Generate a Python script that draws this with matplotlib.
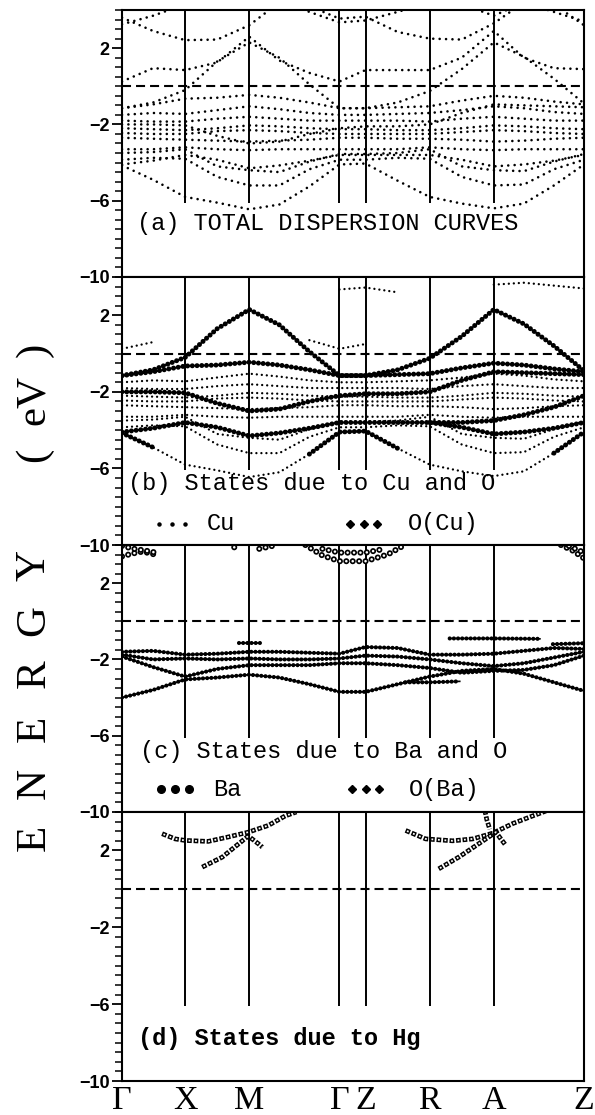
import numpy as np
import matplotlib
matplotlib.use("Agg")
import matplotlib.pyplot as plt
from matplotlib.ticker import FixedLocator, MultipleLocator

plt.rcParams['lines.scale_dashes'] = False
nan = np.nan

# ---------------- data ----------------
# k-path knots (Γ X M Γ Z R A Z with intermediate points)
kpts = [0, 31, 63, 95, 127, 157, 187, 217, 243, 275, 307, 339, 371, 401, 431, 461]
sym_k = [0, 63, 127, 217, 243, 307, 371, 461]
sym_labels = ['Γ', 'X', 'M', 'Γ', 'Z', 'R', 'A', 'Z']
yticks = [-10, -6, -2, 2]
e_fermi = 0.0

# panel (a) bands (eV at each knot)
band_C4 = [3.25, 3.7, 4.3, 4.5, 4.5, 4.5, 3.9, 3.35, 3.45, 3.9, 4.4, 4.3, 3.7, 4.4, 3.9, 3.4]
band_C3 = [3.6, 2.9, 2.42, 2.45, 3.2, 4.4, 4.2, 3.55, 3.65, 2.85, 2.5, 2.45, 3.3, 4.4, 4.3, 3.2]
band_C2 = [0.25, 0.95, 0.85, 1.25, 2.6, 1.35, 0.7, 0.25, 0.85, 0.85, 0.85, 1.5, 2.9, 1.5, 0.95, 0.9]
band_AB = [-1.15, -0.85, -0.2, 1.3, 2.3, 1.5, 0.1, -1.15, -1.15, -0.85, -0.25, 0.9, 2.3, 1.55, 0.4, -0.9]
band_V1 = [-1.15, -0.95, -0.65, -0.6, -0.45, -0.6, -0.85, -1.15, -1.15, -1.1, -1.05, -0.75, -0.5, -0.6, -0.8, -0.95]
band_V2 = [-1.5, -1.4, -1.45, -1.25, -1.05, -1.2, -1.4, -1.5, -1.5, -1.45, -1.4, -1.25, -1.05, -1.15, -1.35, -1.45]
band_V3 = [-1.8, -1.85, -1.85, -1.7, -1.6, -1.7, -1.8, -1.8, -1.8, -1.8, -1.85, -1.7, -1.6, -1.7, -1.8, -1.8]
band_V4 = [-2.0, -2.0, -2.05, -2.6, -3.0, -2.9, -2.5, -2.2, -2.1, -2.1, -2.0, -1.4, -0.95, -1.0, -1.05, -1.1]
band_V5 = [-2.2, -2.25, -2.3, -2.2, -2.05, -2.1, -2.2, -2.25, -2.25, -2.3, -2.3, -2.2, -2.05, -2.1, -2.2, -2.25]
band_V6 = [-2.45, -2.5, -2.5, -2.35, -2.3, -2.35, -2.45, -2.5, -2.5, -2.5, -2.5, -2.4, -2.3, -2.35, -2.45, -2.5]
band_V7 = [-2.7, -2.75, -2.8, -2.85, -2.9, -2.85, -2.8, -2.7, -2.7, -2.75, -2.75, -2.8, -2.9, -2.85, -2.75, -2.7]
band_V8 = [-3.3, -3.3, -3.2, -3.3, -3.35, -3.3, -3.3, -3.3, -3.3, -3.3, -3.2, -3.3, -3.35, -3.3, -3.3, -3.3]
band_V9 = [-4.1, -3.9, -3.6, -3.85, -4.3, -4.15, -3.9, -3.6, -3.6, -3.6, -3.6, -3.85, -4.2, -4.1, -3.9, -3.6]
band_L3 = [-3.5, -3.45, -3.3, -4.2, -4.4, -4.5, -3.95, -3.55, -3.55, -3.5, -3.3, -4.2, -4.4, -4.45, -3.95, -3.55]
band_L2 = [-3.85, -3.75, -3.8, -4.75, -5.2, -5.2, -4.35, -3.85, -3.85, -3.75, -3.8, -4.75, -5.2, -5.15, -4.35, -3.85]
band_L1 = [-4.15, -4.9, -5.8, -6.1, -6.45, -6.2, -5.25, -4.1, -4.05, -4.95, -5.8, -6.15, -6.4, -6.15, -5.2, -4.1]

# panel (b) partial bands
cu_C2_part = [0.25, 0.6, nan, nan, nan, nan, 0.7, 0.25, 0.5, nan, nan, nan, nan, nan, nan, nan]
cu_C4_part = [nan, nan, nan, nan, nan, nan, nan, 3.35, 3.45, 3.2, nan, nan, 3.6, 3.7, 3.55, 3.4]
ocu_L1_part = [-4.15, -4.9, nan, nan, nan, nan, -5.25, -4.1, -4.05, -4.95, nan, nan, nan, nan, -5.2, -4.1]
ocu_TB4 = [nan, nan, nan, nan, nan, nan, nan, nan, nan, nan, -3.6, -3.6, -3.5, -3.2, -2.8, -2.2]

# panel (c): O(Ba) bands
oba_1 = [-1.6, -1.55, -1.75, -1.7, -1.6, -1.6, -1.65, -1.7, -1.35, -1.4, -1.75, -1.75, -1.7, -1.55, -1.4, -1.45]
oba_2 = [-1.75, -2.0, -1.95, -2.0, -1.95, -2.0, -2.0, -1.95, -1.8, -1.85, -2.0, -2.2, -2.35, -2.2, -1.9, -1.6]
oba_3 = [-1.85, -2.4, -2.9, -2.5, -2.3, -2.3, -2.3, -2.2, -2.2, -2.3, -2.45, -2.7, -2.6, -2.55, -2.3, -1.8]
oba_4 = [-4.0, -3.6, -3.05, -2.95, -2.8, -2.95, -3.3, -3.7, -3.7, -3.3, -2.9, -2.6, -2.5, -2.75, -3.2, -3.65]
oba_5_k = [327, 371, 417]
oba_5 = [-0.9, -0.9, -0.92]
oba_6_k = [283, 307, 337]
oba_6 = [-3.2, -3.2, -3.15]
oba_7_k = [117, 138]
oba_7 = [-1.12, -1.12]
oba_8_k = [430, 461]
oba_8 = [-1.2, -1.15]

# panel (c): Ba states
ba_1_k = [0, 10, 20, 30, 36]
ba_1 = [3.4, 3.55, 3.65, 3.55, 3.4]
ba_2_k = [0, 12, 24, 34]
ba_2 = [3.95, 3.8, 3.7, 3.6]
ba_3_k = [112, 116]
ba_3 = [3.88, 3.9]
ba_4_k = [137, 150]
ba_4 = [3.8, 3.95]
ba_5_k = [183, 200, 217, 243, 265, 282]
ba_5 = [4.0, 3.45, 3.15, 3.15, 3.5, 4.0]
ba_6_k = [200, 217, 243, 262]
ba_6 = [3.8, 3.6, 3.6, 3.8]
ba_7_k = [438, 450, 461]
ba_7 = [4.0, 3.7, 3.3]
ba_8_k = [446, 461]
ba_8 = [3.95, 3.6]

# panel (d): Hg states
hg_1_k = [40, 53, 63, 86, 106, 126, 146, 163, 174]
hg_1 = [2.87, 2.6, 2.52, 2.47, 2.7, 2.95, 3.3, 3.8, 4.0]
hg_2_k = [80, 100, 113, 126, 136, 140]
hg_2 = [1.13, 1.65, 2.2, 2.75, 2.35, 2.17]
hg_3_k = [283, 303, 330, 350, 370, 390, 410, 423]
hg_3 = [3.04, 2.6, 2.5, 2.6, 2.9, 3.4, 3.8, 4.05]
hg_4_k = [316, 336, 356, 373, 383]
hg_4 = [1.04, 1.65, 2.35, 2.95, 2.26]
hg_5_k = [362, 364, 367]
hg_5 = [4.1, 3.6, 3.1]

panel_a_bands = [band_C4, band_C3, band_C2, band_AB, band_V1, band_V2, band_V3, band_V4,
                 band_V5, band_V6, band_V7, band_V8, band_V9, band_L3, band_L2, band_L1]
panel_b_cu = [band_V2, band_V3, band_V5, band_V6, band_V7, band_V8, band_L3, band_L2, band_L1,
              cu_C2_part, cu_C4_part]
panel_b_ocu = [band_AB, band_V1, band_V4, band_V9, ocu_L1_part, ocu_TB4]
panel_c_oba = [oba_1, oba_2, oba_3, oba_4]
panel_c_oba_short = [(oba_5_k, oba_5), (oba_6_k, oba_6), (oba_7_k, oba_7), (oba_8_k, oba_8)]
panel_c_ba = [(ba_1_k, ba_1), (ba_2_k, ba_2), (ba_3_k, ba_3), (ba_4_k, ba_4),
              (ba_5_k, ba_5), (ba_6_k, ba_6), (ba_7_k, ba_7), (ba_8_k, ba_8)]
panel_d_hg = [(hg_1_k, hg_1), (hg_2_k, hg_2), (hg_3_k, hg_3), (hg_4_k, hg_4), (hg_5_k, hg_5)]

# ---------------- styles ----------------
small_dot = dict(color='k', lw=1.9, ls=(0, (0.01, 4.6)), dash_capstyle='round')
cu_dot = dict(color='k', lw=1.7, ls=(0, (0.01, 3.6)), dash_capstyle='round')
thick_dot = dict(color='k', lw=3.6, ls=(0, (0.01, 3.4)), dash_capstyle='round')
oba_line = dict(color='k', lw=1.2, ls='-')
oba_dot = dict(color='k', lw=3.0, ls=(0, (0.01, 3.0)), dash_capstyle='round')
circ_out = dict(color='k', lw=4.4, ls=(0, (0.01, 4.6)), dash_capstyle='round')
circ_in = dict(color='white', lw=1.9, ls=(0, (0.01, 4.6)), dash_capstyle='round')
sq_out = dict(color='k', lw=3.4, ls=(0, (3.4, 1.3)), dash_capstyle='butt', solid_capstyle='butt')
sq_in = dict(color='white', lw=1.3, ls=(3.65, (1.3, 3.4)), dash_capstyle='butt')

mono = dict(family='Liberation Mono', fontsize=17, color='k')

fig = plt.figure(figsize=(5.95, 11.15), dpi=100)
left = 122 / 595
width = 462 / 595
tops_px = [10, 277, 545, 812]
bots_px = [277, 545, 812, 1081]
axes = []
for tp, bp in zip(tops_px, bots_px):
    ax = fig.add_axes([left, (1115 - bp) / 1115, width, (bp - tp) / 1115])
    axes.append(ax)

for i, ax in enumerate(axes):
    ax.set_xlim(0, 461)
    ax.set_ylim(-10, 4)
    for s in ax.spines.values():
        s.set_linewidth(1.5)
    ax.yaxis.set_major_locator(FixedLocator(yticks))
    ax.yaxis.set_minor_locator(MultipleLocator(0.5))
    ax.tick_params(axis='y', which='major', direction='out', length=7, width=1.3,
                   labelsize=13, pad=2)
    ax.tick_params(axis='y', which='minor', direction='out', length=5, width=1.1)
    for lab in ax.get_yticklabels():
        lab.set_fontfamily('Liberation Sans')
        lab.set_fontweight('bold')
    ax.set_xticks(sym_k)
    ax.tick_params(axis='x', length=0)
    if i < 3:
        ax.set_xticklabels([])
    else:
        ax.set_xticklabels(sym_labels, fontfamily='Liberation Serif', fontsize=24.5)
        ax.tick_params(axis='x', pad=3)
    ax.vlines(sym_k[1:-1], -6.1, 4, color='k', lw=1.4)
    ax.axhline(e_fermi, color='k', lw=1.5, ls=(0, (6.5, 3.6)))

axa, axb, axc, axd = axes

# (a)
for b in panel_a_bands:
    axa.plot(kpts, b, **small_dot)
axa.text(15, -7.2, '(a) TOTAL DISPERSION CURVES', va='center', ha='left', **mono)

# (b)
for b in panel_b_cu:
    axb.plot(kpts, b, **cu_dot)
for b in panel_b_ocu:
    axb.plot(kpts, b, **thick_dot)
axb.text(6, -6.8, '(b) States due to Cu and O', va='center', ha='left', **mono)
axb.plot([37, 50, 63], [-8.9] * 3, ls='none', marker='o', ms=2.2, color='k')
axb.text(85, -8.9, 'Cu', va='center', ha='left', **mono)
axb.plot([228, 241, 254], [-8.9] * 3, ls='none', marker='D', ms=3.6, color='k')
axb.text(285, -8.9, 'O(Cu)', va='center', ha='left', **mono)

# (c)
for b in panel_c_oba:
    axc.plot(kpts, b, **oba_line)
    axc.plot(kpts, b, **oba_dot)
for kk, b in panel_c_oba_short:
    axc.plot(kk, b, **oba_line)
    axc.plot(kk, b, **oba_dot)
for kk, b in panel_c_ba:
    axc.plot(kk, b, **circ_out)
    axc.plot(kk, b, **circ_in)
axc.text(18, -6.85, '(c) States due to Ba and O', va='center', ha='left', **mono)
axc.plot([39, 53, 67], [-8.8] * 3, ls='none', marker='o', ms=5.5, color='k')
axc.text(91, -8.8, 'Ba', va='center', ha='left', **mono)
axc.plot([230, 243, 256], [-8.8] * 3, ls='none', marker='D', ms=3.6, color='k')
axc.text(286, -8.8, 'O(Ba)', va='center', ha='left', **mono)

# (d)
for kk, b in panel_d_hg:
    axd.plot(kk, b, **sq_out)
    axd.plot(kk, b, **sq_in)
axd.text(16, -7.8, '(d) States due to Hg', va='center', ha='left',
         family='Liberation Mono', fontsize=17, fontweight='bold')

# y label: "E N E R G Y ( eV )"
letters = ['E', 'N', 'E', 'R', 'G', 'Y', '(', 'eV', ')']
ypix = [838, 783, 729, 674, 620, 565, 455, 400, 350]
for ch, yp in zip(letters, ypix):
    fig.text(34 / 595, 1 - yp / 1115, ch, rotation=90, ha='center', va='center',
             family='Liberation Serif', fontsize=31)

fig.savefig('out.png', dpi=100)
